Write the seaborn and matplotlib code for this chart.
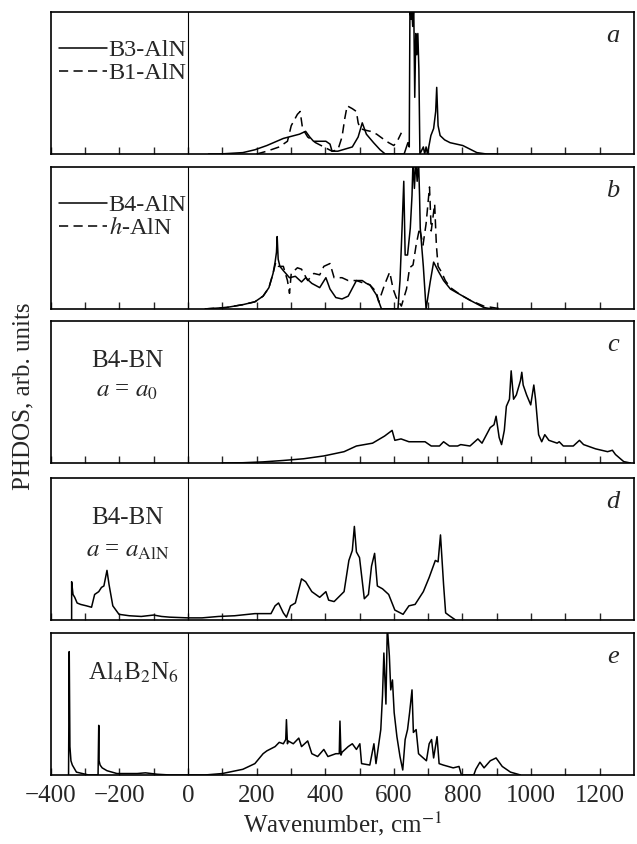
import numpy as np
import pandas as pd
import matplotlib
matplotlib.use("Agg")
import matplotlib.pyplot as plt
import seaborn as sns

sns.set_style("ticks")
plt.rcParams["font.family"] = ["Liberation Serif", "DejaVu Serif"]
plt.rcParams["mathtext.fontset"] = "stix"

# phonon DOS (wavenumber cm^-1, relative height)
b3_x = [60, 90, 160, 195, 230, 278, 325, 343, 355, 366, 384, 402, 414, 420, 437, 479, 496, 508, 520, 541,
        560, 575, 630, 641, 645, 647, 650, 652, 655, 658, 661, 664, 667, 670, 673, 676, 686, 690, 694, 698,
        708, 716, 722, 725, 729, 735, 748, 764, 801, 842, 871, 900]
b3_y = [0, 0, 0.01, 0.03, 0.06, 0.11, 0.14, 0.16, 0.12, 0.09, 0.09, 0.09, 0.07, 0.02, 0.02, 0.05, 0.12, 0.22, 0.14, 0.08,
        0.03, 0, 0, 0.08, 0.05, 1.05, 0.95, 1.05, 0.9, 1.05, 0.4, 0.85, 0.7, 0.85, 0.6, 0, 0.05, 0, 0.05, 0,
        0.13, 0.18, 0.3, 0.47, 0.2, 0.13, 0.1, 0.08, 0.06, 0.01, 0, 0]

b1_x = [200, 230, 266, 290, 301, 319, 327, 334, 349, 372, 396, 420, 437, 449, 457, 464, 479, 491, 496, 502,
        514, 532, 550, 567, 585, 600, 612, 622]
b1_y = [0, 0.02, 0.05, 0.09, 0.2, 0.28, 0.3, 0.18, 0.12, 0.08, 0.05, 0.02, 0.03, 0.12, 0.25, 0.34, 0.32, 0.3, 0.22, 0.18,
        0.17, 0.16, 0.14, 0.11, 0.08, 0.06, 0.1, 0.15]

b4_x = [50, 112, 160, 195, 219, 236, 248, 254, 258, 260, 263, 268, 278, 296, 313, 331, 343, 361, 384, 402,
        414, 431, 449, 467, 491, 508, 520, 530, 549, 564, 612, 618, 624, 629, 633, 640, 648, 653, 656, 660,
        664, 668, 672, 675, 677, 686, 694, 706, 716, 731, 745, 765, 794, 823, 862, 885]
b4_y = [0, 0.01, 0.03, 0.05, 0.09, 0.15, 0.25, 0.33, 0.4, 0.51, 0.35, 0.3, 0.27, 0.22, 0.23, 0.19, 0.22, 0.18, 0.15, 0.22,
        0.14, 0.08, 0.07, 0.09, 0.2, 0.2, 0.18, 0.17, 0.1, 0, 0, 0.2, 0.57, 0.9, 0.38, 0.38, 0.57, 0.8, 1.05, 0.85,
        1.05, 0.9, 1.05, 0.8, 0.57, 0.3, 0, 0.19, 0.33, 0.26, 0.2, 0.14, 0.1, 0.06, 0.01, 0]

h_x = [50, 112, 160, 195, 219, 236, 248, 256, 264, 278, 290, 296, 301, 319, 331, 349, 367, 384, 396, 414,
       426, 449, 467, 491, 514, 530, 549, 556, 573, 588, 598, 607, 622, 637, 646, 656, 665, 675, 685, 694,
       704, 709, 719, 724, 729, 739, 750, 765, 794, 823, 862, 900, 920]
h_y = [0, 0.01, 0.03, 0.05, 0.09, 0.15, 0.25, 0.33, 0.3, 0.3, 0.2, 0.11, 0.25, 0.29, 0.28, 0.2, 0.25, 0.24, 0.3, 0.32,
       0.22, 0.22, 0.2, 0.2, 0.18, 0.17, 0.12, 0.05, 0.17, 0.26, 0.14, 0.08, 0.02, 0.14, 0.29, 0.31, 0.45, 0.57, 0.45, 0.6,
       0.86, 0.55, 0.74, 0.45, 0.3, 0.26, 0.2, 0.15, 0.1, 0.06, 0.02, 0.005, 0]

bn0_x = [100, 160, 219, 278, 337, 396, 455, 491, 538, 573, 595, 603, 621, 644, 691, 709, 733, 745, 762, 786,
         795, 822, 845, 857, 881, 892, 898, 907, 914, 922, 928, 937, 942, 949, 957, 969, 973, 977, 987, 999,
         1008, 1013, 1022, 1031, 1040, 1052, 1076, 1082, 1094, 1123, 1141, 1153, 1188, 1223, 1237, 1246, 1270, 1290]
bn0_y = [0, 0.002, 0.008, 0.018, 0.03, 0.05, 0.08, 0.12, 0.14, 0.19, 0.23, 0.16, 0.17, 0.15, 0.15, 0.12, 0.12, 0.15, 0.12, 0.12,
         0.13, 0.12, 0.17, 0.14, 0.25, 0.27, 0.33, 0.18, 0.13, 0.23, 0.4, 0.45, 0.65, 0.45, 0.48, 0.58, 0.64, 0.55, 0.48, 0.41,
         0.55, 0.45, 0.2, 0.15, 0.2, 0.16, 0.14, 0.15, 0.12, 0.12, 0.16, 0.13, 0.1, 0.08, 0.09, 0.06, 0.01, 0]

bnaln_x = [-339, -339, -335, -330, -323, -313, -296, -281, -272, -260, -252, -245, -236, -230, -219, -201, -171, -136, -100, -77,
           -53, 0, 41, 89, 136, 195, 242, 254, 264, 278, 287, 299, 313, 331, 343, 361, 384, 402, 410, 426,
           455, 469, 479, 485, 491, 500, 514, 526, 535, 544, 552, 567, 585, 603, 627, 644, 662, 686, 703, 721,
           729, 736, 745, 751, 762, 780]
bnaln_y = [0, 0.27, 0.18, 0.16, 0.12, 0.11, 0.1, 0.09, 0.18, 0.2, 0.23, 0.24, 0.35, 0.25, 0.1, 0.04, 0.03, 0.025, 0.035, 0.025,
           0.02, 0.015, 0.015, 0.025, 0.03, 0.045, 0.045, 0.1, 0.12, 0.05, 0.02, 0.1, 0.12, 0.29, 0.27, 0.2, 0.16, 0.2, 0.14, 0.13,
           0.2, 0.42, 0.49, 0.66, 0.48, 0.44, 0.15, 0.18, 0.38, 0.47, 0.24, 0.22, 0.18, 0.07, 0.04, 0.1, 0.11, 0.2, 0.3, 0.42,
           0.41, 0.6, 0.25, 0.05, 0.03, 0]

albn_x = [-348, -346, -344, -341, -337, -325, -290, -262, -260, -259, -256, -250, -236, -207, -148, -124, -89, -53, 50, 100,
          160, 195, 219, 230, 254, 266, 278, 285, 287, 290, 292, 307, 323, 331, 349, 361, 378, 396, 408, 431,
          441, 443, 446, 449, 467, 479, 491, 501, 506, 530, 542, 548, 562, 567, 571, 577, 581, 587, 591, 596,
          601, 609, 618, 626, 633, 640, 646, 653, 657, 665, 672, 681, 695, 703, 710, 716, 726, 732, 744, 773,
          790, 797, 833, 839, 851, 863, 881, 898, 916, 940, 969]
albn_y = [0, 0.87, 0.2, 0.1, 0.07, 0.02, 0, 0, 0.35, 0.1, 0.07, 0.05, 0.03, 0.01, 0.01, 0.015, 0.005, 0, 0, 0.01,
          0.04, 0.08, 0.15, 0.17, 0.2, 0.23, 0.22, 0.25, 0.39, 0.22, 0.24, 0.22, 0.26, 0.2, 0.24, 0.15, 0.13, 0.18, 0.13, 0.15,
          0.15, 0.38, 0.14, 0.16, 0.2, 0.22, 0.18, 0.22, 0.08, 0.07, 0.22, 0.08, 0.32, 0.56, 0.86, 0.5, 1.05, 0.84, 0.6, 0.67,
          0.44, 0.27, 0.13, 0.035, 0.25, 0.32, 0.44, 0.6, 0.3, 0.32, 0.15, 0.13, 0.1, 0.22, 0.25, 0.12, 0.27, 0.08, 0.07, 0.05,
          0.06, 0, 0, 0.04, 0.09, 0.05, 0.1, 0.12, 0.06, 0.02, 0]

tick_pos = list(range(-400, 1300, 100))
tick_lbl = [("\u2212%d" % -t if t < 0 else "%d" % t) if t % 200 == 0 else "" for t in tick_pos]

DASH = (0, (6, 3.5))
LW = 1.1

fig = plt.figure(figsize=(6.37, 8.44), dpi=100)
left, width, height = 0.0796, 0.9157, 0.168
bottoms = [0.8175, 0.634, 0.4514, 0.2654, 0.0818]
axes = [fig.add_axes([left, b, width, height]) for b in bottoms]


def curve(ax, xs, ys, ls="-", label=None):
    df = pd.DataFrame({"w": xs, "g": ys})
    sns.lineplot(data=df, x="w", y="g", ax=ax, color="black", lw=LW, ls=ls,
                 estimator=None, sort=False, label=label, legend=False)


curve(axes[0], b3_x, b3_y, label="B3-AlN")
curve(axes[0], b1_x, b1_y, ls=DASH, label="B1-AlN")
curve(axes[1], b4_x, b4_y, label="B4-AlN")
curve(axes[1], h_x, h_y, ls=DASH, label="$h$-AlN")
curve(axes[2], bn0_x, bn0_y)
curve(axes[3], bnaln_x, bnaln_y)
curve(axes[4], albn_x, albn_y)

for i, ax in enumerate(axes):
    ax.set_xlim(-400, 1300)
    ax.set_ylim(0, 1)
    ax.axvline(0, color="black", lw=0.8)
    ax.set_yticks([])
    ax.set_xticks(tick_pos)
    ax.tick_params(axis="x", direction="in", length=5, width=1, pad=7, labelsize=18)
    if i < 4:
        ax.set_xticklabels([])
    else:
        ax.set_xticklabels(tick_lbl)
    ax.set_xlabel("")
    ax.set_ylabel("")
    for s in ax.spines.values():
        s.set_visible(True)
        s.set_linewidth(1.2)
        s.set_color("black")
    ax.text(0.975, 0.83, "abcde"[i], transform=ax.transAxes, ha="right", va="center",
            fontsize=19, fontstyle="italic")

for ax in axes[:2]:
    ax.legend(loc="upper left", bbox_to_anchor=(0.014, 0.81), frameon=False, fontsize=17.5,
              handlelength=2.0, handletextpad=0.05, labelspacing=0.05, borderpad=0, borderaxespad=0)

axes[2].text(-177, 0.72, "B4-BN", ha="center", va="center", fontsize=18)
axes[2].text(-177, 0.51, "$a$ = $a_0$", ha="center", va="center", fontsize=18)
axes[3].text(-177, 0.72, "B4-BN", ha="center", va="center", fontsize=18)
axes[3].text(-177, 0.49, "$a$ = $a_{\\mathrm{AlN}}$", ha="center", va="center", fontsize=18)
axes[4].text(-160, 0.72, "Al$_4$B$_2$N$_6$", ha="center", va="center", fontsize=18)

fig.text(0.037, 0.53, "PHDOS, arb. units", rotation=90, ha="center", va="center", fontsize=18)
fig.text(left + width / 2, 0.024, "Wavenumber, cm$^{-1}$", ha="center", va="center", fontsize=18)

fig.savefig("out.png", dpi=100)
